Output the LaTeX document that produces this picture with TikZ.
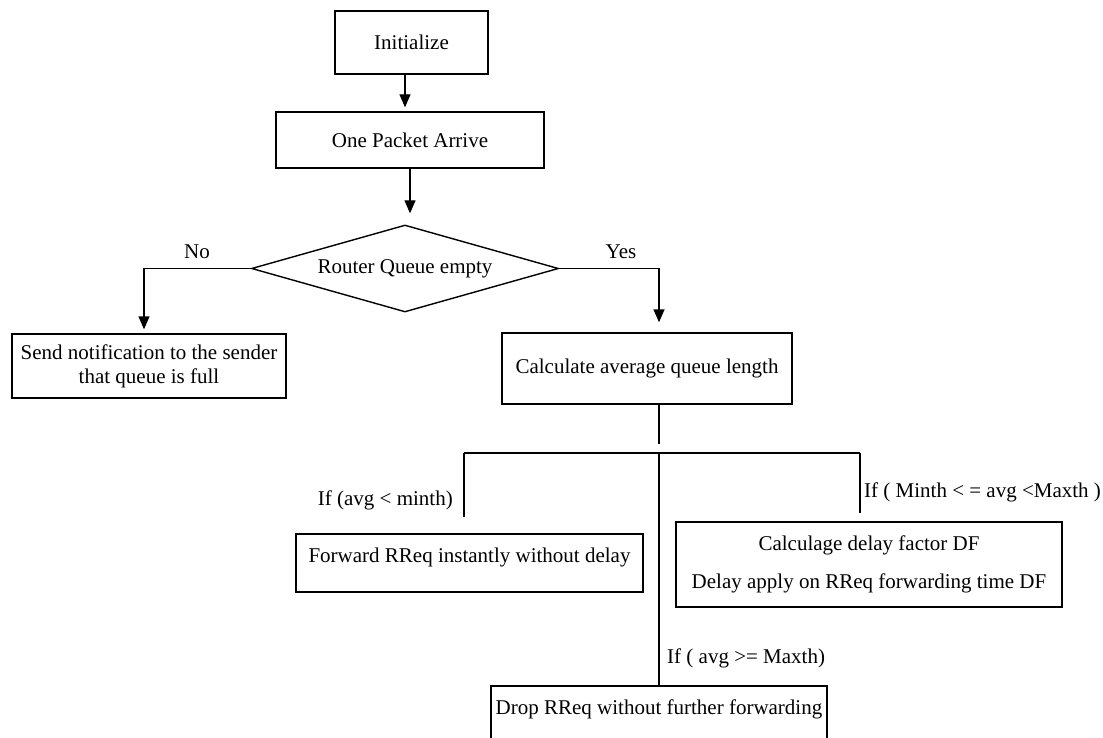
\documentclass[tikz,border=0pt]{standalone}
\usepackage{fontspec}
\setmainfont{Liberation Serif}
\usetikzlibrary{shapes.geometric,arrows.meta}
\begin{document}
\begin{tikzpicture}[x=1pt,y=-1pt,
  box/.style={draw, line width=1.4pt, inner sep=0pt, font=\fontsize{21}{24}\selectfont},
  topbox/.style={box, text height=15pt, text depth=17pt},
  line/.style={line width=1.4pt},
  arr/.style={line, -{Triangle[length=13pt,width=11pt]}},
  lbl/.style={font=\fontsize{21}{24}\selectfont, inner sep=0pt}]
\clip (0,0) rectangle (1103,738);
\fill[white] (0,0) rectangle (1103,738);

% nodes
\node[box, minimum width=153pt, minimum height=63pt] (init) at (411.5,42.5) {Initialize};
\node[box, minimum width=268pt, minimum height=56pt] (opa) at (410,140) {One Packet Arrive};
\node[box, diamond, aspect=3.5, minimum width=307pt, minimum height=87pt] (dec) at (405,268.5) {Router Queue empty};
\node[box, align=center, minimum width=274pt, minimum height=64pt] (send) at (149,366) {Send notification to the sender\\that queue is full};
\node[box, minimum width=290pt, minimum height=71pt] (calc) at (647,368.5) {Calculate average queue length};
\node[topbox, minimum width=347pt, minimum height=58pt] (fwd) at (469.5,563) {Forward RReq instantly without delay};
\node[box, align=center, minimum width=386pt, minimum height=85pt] (dly) at (869,564.5) {Calculage delay factor DF\\[14pt]Delay apply on RReq forwarding time DF};
\node[topbox, minimum width=336pt, minimum height=58pt] (drop) at (659,715) {Drop RReq without further forwarding};

% labels
\node[lbl] (no) at (197,252) {No};
\node[lbl] (yes) at (621,252) {Yes};
\node[lbl, anchor=east] (c1) at (453,500) {If (avg < minth)};
\node[lbl, anchor=west] (c2) at (864,492) {If ( Minth < = avg <Maxth )};
\node[lbl, anchor=west] (c3) at (667,658) {If ( avg >= Maxth)};

% helper coordinates
\coordinate (a1) at (405,0);
\coordinate (a2) at (410,0);
\coordinate (nc) at (144,0);
\coordinate (yc) at (659,0);
\coordinate (stubend) at (659,444);
\coordinate (busL) at (464,453);
\coordinate (busR) at (860,453);
\coordinate (busM) at (659,453);
\coordinate (legL) at (464,517);
\coordinate (legR) at (860,513);

% connectors
\draw[arr, shorten >=4pt] (init.south -| a1) -- (opa.north -| a1);
\draw[arr, shorten >=11pt] (opa.south -| a2) -- (dec.north -| a2);
\draw[arr, shorten >=4pt] (dec.west) -| (send.north -| nc);
\draw[arr, shorten >=10pt] (dec.east) -| (calc.north -| yc);
\draw[line] (calc.south -| yc) -- (stubend);
\draw[line] (busL) -- (busR);
\draw[line] (busL) -- (legL);
\draw[line] (busR) -- (legR);
\draw[line] (busM) -- (drop.north -| busM);
\end{tikzpicture}
\end{document}
